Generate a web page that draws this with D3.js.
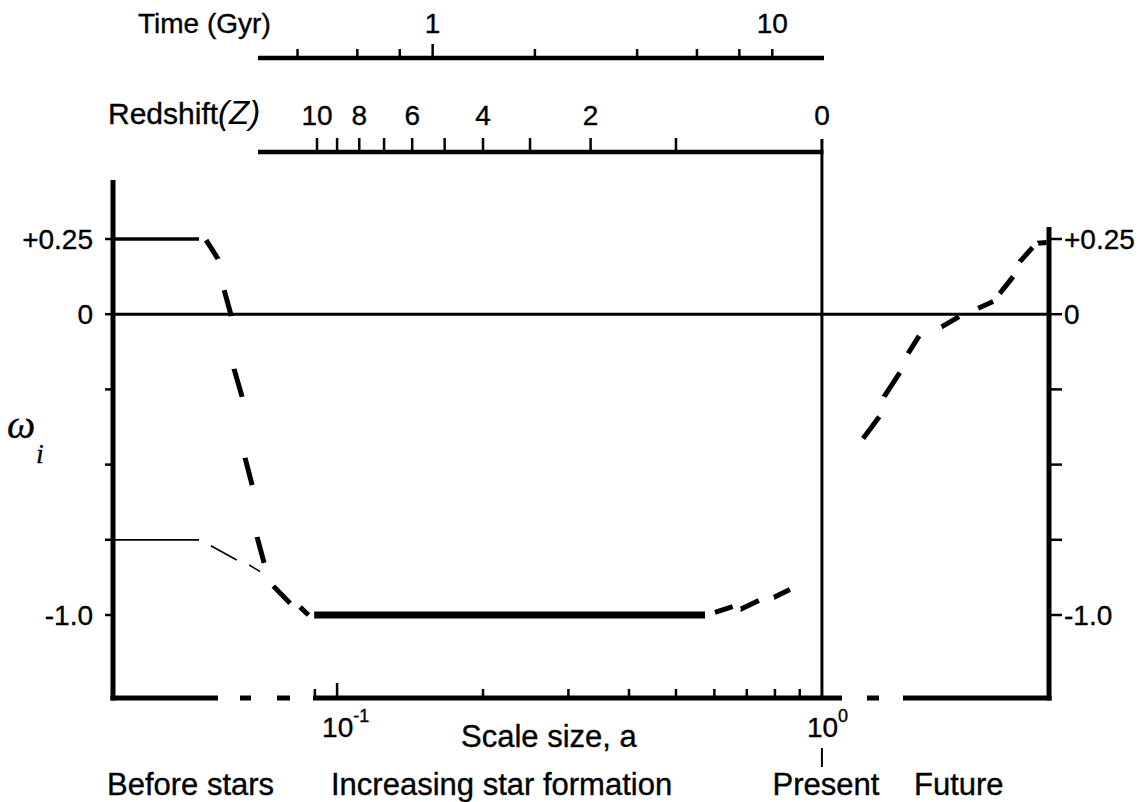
<!DOCTYPE html>
<html>
<head>
<meta charset="utf-8">
<script src="https://cdn.jsdelivr.net/npm/d3@7"></script>
<style>
    body { margin: 0; background: #fff; }
    text { font-family: "Liberation Sans", Arial, sans-serif; fill: #000; stroke: #000; stroke-width: 0.35; }
</style>
</head>
<body>
<div id="chart"></div>
<script>
// ---- data ----
var scaleTicks = [0.09, 0.1, 0.2, 0.3, 0.4, 0.5, 0.6, 0.7, 0.8, 0.9];
var scaleLabels = [{a: 0.1, base: "10", exp: "-1"}, {a: 1.0, base: "10", exp: "0"}];
var redshiftTicks = [1, 2, 3, 4, 5, 6, 7, 8, 9, 10];
var redshiftLabels = [10, 8, 6, 4, 2, 0];
var timeTicks = [0.4, 0.6, 0.8, 1, 2, 4, 6, 8, 10];
var timeLabels = [1, 10];
var wTicks = [0.25, 0, -0.25, -0.5, -0.75, -1.0];
var wLabelsLeft = [{w: 0.25, text: "+0.25"}, {w: 0, text: "0"}, {w: -1.0, text: "-1.0"}];
var wLabelsRight = [{w: 0.25, text: "+0.25"}, {w: 0, text: "0"}, {w: -1.0, text: "-1.0"}];

// curves as [a, w]; dashed ones list dash ends in pairs
var hotStart = [[0.0345, 0.25], [0.0519, 0.25]];
var coldStart = [[0.0345, -0.75], [0.0519, -0.75]];
var hotFall = [[0.0537, 0.246], [0.0568, 0.184], [0.0585, 0.080], [0.0605, -0.006],
               [0.0613, -0.182], [0.0637, -0.275], [0.0646, -0.478], [0.0668, -0.568],
               [0.0684, -0.741], [0.0707, -0.827]];
var coldFall = [[0.0549, -0.770], [0.0621, -0.817], [0.0659, -0.834], [0.0694, -0.856]];
var joinFall = [[0.0739, -0.904], [0.0800, -0.961], [0.0839, -0.974], [0.0873, -1.0]];
var matterEra = [[0.0897, -1.0], [0.574, -1.0]];
var lateRise = [[0.6017, -0.991], [0.6546, -0.972], [0.6809, -0.980], [0.7414, -0.952],
                [0.7962, -0.941], [0.8592, -0.915]];
var futureRise = [[1.216, -0.413], [1.313, -0.341], [1.344, -0.274], [1.448, -0.194],
                  [1.506, -0.130], [1.587, -0.072], [1.766, -0.042], [1.919, -0.008],
                  [2.101, 0.020], [2.255, 0.042], [2.328, 0.069], [2.480, 0.125],
                  [2.561, 0.175], [2.720, 0.222], [2.793, 0.236], [2.906, 0.238]];

var width = 1140, height = 802;
var svg = d3.select("#chart").append("svg").attr("width", width).attr("height", height);

var x = d3.scaleLog().domain([0.0345, 2.94]).range([113, 1049]);
var y = d3.scaleLinear().domain([0.25, -1]).range([239, 615]);
var t = d3.scaleLog().domain([0.306, 14.2]).range([258, 824]);

var bottomY = 698, leftTop = 180, rightTop = 227, zY = 152, tY = 58;
var x0 = x(1);

var line = d3.line().x(function(d) { return x(d[0]); }).y(function(d) { return y(d[1]); });

function dashes(pts) {
    var p = pts.map(function(d) { return [x(d[0]), y(d[1])]; });
    var out = [];
    for (var i = 1; i < p.length; i++) {
        out.push(Math.hypot(p[i][0] - p[i-1][0], p[i][1] - p[i-1][1]).toFixed(1));
    }
    return out.join(",");
}

function seg(x1, y1, x2, y2, w) {
    return svg.append("line").attr("x1", x1).attr("y1", y1).attr("x2", x2).attr("y2", y2)
        .attr("stroke", "#000").attr("stroke-width", w);
}

// ---- frame ----
seg(113, leftTop, 113, bottomY + 2.5, 5);
seg(1049, rightTop, 1049, bottomY + 2.5, 5);
svg.append("path")
    .attr("d", "M110.5," + bottomY + "H1051.5")
    .attr("stroke", "#000").attr("stroke-width", 5).attr("fill", "none")
    .attr("stroke-dasharray", "107.5,22,11,26,13,23,529,25,12,24,148.5");
seg(113, y(0), 1049, y(0), 3);
seg(x0, 139, x0, bottomY, 3);

// w ticks
svg.selectAll(".tl").data(wTicks).enter().append("line")
    .attr("x1", 105).attr("x2", 113)
    .attr("y1", function(d) { return y(d); }).attr("y2", function(d) { return y(d); })
    .attr("stroke", "#000").attr("stroke-width", 2.5);
svg.selectAll(".tr").data(wTicks).enter().append("line")
    .attr("x1", 1049).attr("x2", 1062)
    .attr("y1", function(d) { return y(d); }).attr("y2", function(d) { return y(d); })
    .attr("stroke", "#000").attr("stroke-width", 2.5);
svg.selectAll(".ll").data(wLabelsLeft).enter().append("text")
    .attr("x", 93).attr("y", function(d) { return y(d.w); }).attr("dy", "0.36em")
    .attr("text-anchor", "end").attr("font-size", 28)
    .text(function(d) { return d.text; });
svg.selectAll(".lr").data(wLabelsRight).enter().append("text")
    .attr("x", 1064).attr("y", function(d) { return y(d.w); }).attr("dy", "0.36em")
    .attr("font-size", 28)
    .text(function(d) { return d.text; });

// omega_i
svg.append("text").attr("x", 7).attr("y", 438)
    .style("font-family", "'Liberation Serif', serif").style("font-style", "italic")
    .attr("font-size", 40).text("\u03c9");
svg.append("text").attr("x", 36).attr("y", 463)
    .style("font-family", "'Liberation Serif', serif").style("font-style", "italic")
    .attr("font-size", 28).text("i");

// ---- bottom axis: scale size ----
svg.selectAll(".bt").data(scaleTicks).enter().append("line")
    .attr("x1", function(d) { return x(d); }).attr("x2", function(d) { return x(d); })
    .attr("y1", function(d) { return d === 0.1 ? bottomY - 15 : bottomY - 9; }).attr("y2", bottomY)
    .attr("stroke", "#000").attr("stroke-width", 2.5);
var sl = svg.selectAll(".bl").data(scaleLabels).enter().append("text")
    .attr("x", function(d) { return x(d.a) - 15; }).attr("y", 737).attr("font-size", 28);
sl.append("tspan").text(function(d) { return d.base; });
sl.append("tspan").attr("dy", -15).attr("font-size", 18).text(function(d) { return d.exp; });

svg.append("text").attr("x", 461).attr("y", 747).attr("font-size", 31).text("Scale size, a");
seg(x0, 748, x0, 767, 2);
svg.append("text").attr("x", 107).attr("y", 795).attr("font-size", 31).text("Before stars");
svg.append("text").attr("x", 331).attr("y", 795).attr("font-size", 31).text("Increasing star formation");
svg.append("text").attr("x", x0 + 4).attr("y", 795).attr("text-anchor", "middle").attr("font-size", 31).text("Present");
svg.append("text").attr("x", 914).attr("y", 795).attr("font-size", 31).text("Future");

// ---- redshift axis ----
seg(258, zY, x0 + 1.5, zY, 4.5);
svg.selectAll(".zt").data(redshiftTicks).enter().append("line")
    .attr("x1", function(d) { return x(1 / (1 + d)); }).attr("x2", function(d) { return x(1 / (1 + d)); })
    .attr("y1", zY - 14).attr("y2", zY)
    .attr("stroke", "#000").attr("stroke-width", 2.5);
svg.selectAll(".zl").data(redshiftLabels).enter().append("text")
    .attr("x", function(d) { return x(1 / (1 + d)); }).attr("y", 125)
    .attr("text-anchor", "middle").attr("font-size", 28)
    .text(function(d) { return d; });
var rz = svg.append("text").attr("x", 108).attr("y", 124).attr("font-size", 30);
rz.append("tspan").text("Redshift");
rz.append("tspan").attr("font-style", "italic").attr("font-size", 33)
    .style("stroke-width", 0).text("(Z)");

// ---- time axis ----
seg(258, tY, 824, tY, 4.5);
svg.selectAll(".tt").data(timeTicks).enter().append("line")
    .attr("x1", function(d) { return t(d); }).attr("x2", function(d) { return t(d); })
    .attr("y1", function(d) { return d === 1 ? tY - 14 : tY - 9; }).attr("y2", tY)
    .attr("stroke", "#000").attr("stroke-width", 2.5);
svg.selectAll(".tlab").data(timeLabels).enter().append("text")
    .attr("x", function(d) { return t(d); }).attr("y", 33)
    .attr("text-anchor", "middle").attr("font-size", 28)
    .text(function(d) { return d; });
svg.append("text").attr("x", 138).attr("y", 33).attr("font-size", 28).text("Time (Gyr)");

// ---- curves ----
function curve(data, w, dashed) {
    var p = svg.append("path").datum(data).attr("d", line)
        .attr("fill", "none").attr("stroke", "#000").attr("stroke-width", w);
    if (dashed) p.attr("stroke-dasharray", dashes(data));
    return p;
}
curve(hotStart, 3.5, false);
curve(coldStart, 1.8, false);
curve(hotFall, 5, true);
curve(coldFall, 1.6, true);
curve(joinFall, 5, true);
curve(matterEra, 7, false);
curve(lateRise, 5, true);
curve(futureRise, 5, true);
</script>
</body>
</html>
